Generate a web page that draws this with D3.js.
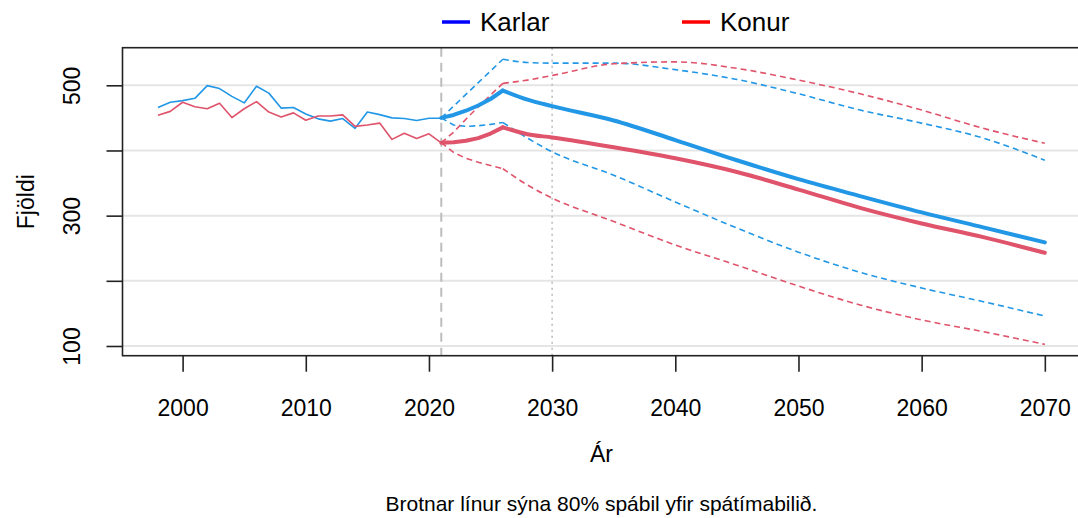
<!DOCTYPE html>
<html>
<head>
<meta charset="utf-8">
<script src="https://cdn.jsdelivr.net/npm/d3@7"></script>
<style>
  html, body { margin: 0; padding: 0; background: #ffffff; }
  svg { display: block; }
  text { font-family: "Liberation Sans", Arial, Helvetica, sans-serif; fill: #000; }
</style>
</head>
<body>
<svg id="chart" width="1078" height="518"></svg>
<script>
// ---------- DATA ----------
const histYears = [1998,1999,2000,2001,2002,2003,2004,2005,2006,2007,2008,2009,2010,2011,2012,2013,2014,2015,2016,2017,2018,2019,2020,2021];
const karlarHist = [466,474,476.5,480,499.5,495,483,473,498.5,488,465,466,456,448.5,445,449,434,459,455,450,449,446,449.5,449.5];
const konurHist  = [454,460,474,467,464,472.5,450.5,464,475,459,451.5,457.7,446.4,453,453,454.6,437,439,442,417,426.5,418.4,425.5,411.7];

const projYears   = [2021,2022,2023,2024,2025,2026,2028,2030,2035,2040,2045,2050,2055,2060,2065,2070];
const karlarMed   = [450,454.5,461,469,479,492,478,468,446,416,385,356,330,305,282,259];
const karlarUpper = [450,468,486,504,522,540,535,534,534,524,509,487,462,442,419,385];
const karlarLower = [450,439,437,438,440,443,419,398,362,321,281,244,213,189,168,146];
const konurMed    = [412,412.5,415,419,426,435.5,425,420,405,388,367,340,312,288,267,243];
const konurUpper  = [412,428,448,467,485,503,508,515,533,536,526,508,487,462,434,411];
const konurLower  = [412,397,388,382,377,372,347,327,291,255,224,192,163,140,122,102.5];

const xTicks = [2000,2010,2020,2030,2040,2050,2060,2070];
const yTicks = [100,200,300,400,500];
const yTickLabels = ["100","","300","","500"];
const refYearDashed = 2021;
const refYearDotted = 2030;
const legendLabels = ["Karlar","Konur"];
const xTitle = "Ár";
const yTitle = "Fjöldi";
const caption = "Brotnar línur sýna 80% spábil yfir spátímabilið.";

// ---------- STYLE ----------
const colKarlar = "#2297E6";
const colKonur  = "#DF536B";
const legendCols = ["#0000FF","#FF0000"];

const svg = d3.select("#chart");
const plot = {left: 122.5, right: 1080.3, top: 47.7, bottom: 355.7};

const x = d3.scaleLinear().domain([1995.12, 2072.88]).range([plot.left, plot.right]);
const y = d3.scaleLinear().domain([85.1, 557.7]).range([plot.bottom, plot.top]);

svg.append("defs").append("clipPath").attr("id","clip")
  .append("rect").attr("x", plot.left).attr("y", plot.top)
  .attr("width", plot.right - plot.left).attr("height", plot.bottom - plot.top);

// grid
svg.append("g").selectAll("line").data(yTicks).join("line")
  .attr("x1", plot.left).attr("x2", plot.right)
  .attr("y1", d => y(d)).attr("y2", d => y(d))
  .attr("stroke", "#e5e5e5").attr("stroke-width", 2);

// reference verticals
svg.append("line")
  .attr("x1", x(refYearDashed)).attr("x2", x(refYearDashed))
  .attr("y1", plot.top).attr("y2", plot.bottom)
  .attr("stroke", "#bdbdbd").attr("stroke-width", 2).attr("stroke-dasharray", "9,6");
svg.append("line")
  .attr("x1", x(refYearDotted)).attr("x2", x(refYearDotted))
  .attr("y1", plot.top).attr("y2", plot.bottom)
  .attr("stroke", "#bdbdbd").attr("stroke-width", 1.6).attr("stroke-dasharray", "2,4");

const g = svg.append("g").attr("clip-path", "url(#clip)");

function drawHist(vals, col) {
  const line = d3.line().x((d,i) => x(histYears[i])).y(d => y(d));
  g.append("path").attr("d", line(vals)).attr("fill","none")
    .attr("stroke", col).attr("stroke-width", 1.6).attr("stroke-linejoin","round");
}
function drawProj(vals, col, width, dash) {
  const pts = projYears.map((yr,i) => [yr, vals[i]]);
  const early = pts.filter(p => p[0] <= 2026);
  const late = pts.filter(p => p[0] >= 2026);
  const l1 = d3.line().x(p => x(p[0])).y(p => y(p[1]));
  const l2 = d3.line().x(p => x(p[0])).y(p => y(p[1])).curve(d3.curveMonotoneX);
  [l1(early), l2(late)].forEach(d => {
    const p = g.append("path").attr("d", d).attr("fill","none")
      .attr("stroke", col).attr("stroke-width", width)
      .attr("stroke-linejoin","round").attr("stroke-linecap", dash ? "butt" : "round");
    if (dash) p.attr("stroke-dasharray", dash);
  });
}

drawHist(karlarHist, colKarlar);
drawHist(konurHist, colKonur);
drawProj(karlarUpper, colKarlar, 1.6, "6,4");
drawProj(karlarLower, colKarlar, 1.6, "6,4");
drawProj(konurUpper, colKonur, 1.6, "6,4");
drawProj(konurLower, colKonur, 1.6, "6,4");
drawProj(konurMed, colKonur, 4, null);
drawProj(karlarMed, colKarlar, 4, null);

// box
svg.append("rect").attr("x", plot.left).attr("y", plot.top)
  .attr("width", plot.right - plot.left).attr("height", plot.bottom - plot.top)
  .attr("fill","none").attr("stroke","#222").attr("stroke-width",1.6);

// x axis
const xAxis = d3.axisBottom(x).tickValues(xTicks).tickFormat(d3.format("d")).tickSize(16).tickPadding(28);
const xg = svg.append("g").attr("transform", `translate(0,${plot.bottom})`).call(xAxis);
xg.select(".domain").remove();
xg.selectAll(".tick line").attr("stroke","#222").attr("stroke-width",1.6);
xg.selectAll(".tick text").attr("font-size", 23).attr("font-family","Liberation Sans").attr("fill","#000");

// y axis
const yAxis = d3.axisLeft(y).tickValues(yTicks).tickFormat((d,i) => yTickLabels[i]).tickSize(16).tickPadding(0);
const yg = svg.append("g").attr("transform", `translate(${plot.left},0)`).call(yAxis);
yg.select(".domain").remove();
yg.selectAll(".tick line").attr("stroke","#222").attr("stroke-width",1.6);
yg.selectAll(".tick text")
  .attr("font-size", 23).attr("font-family","Liberation Sans").attr("fill","#000")
  .attr("text-anchor","middle").attr("dy", null).attr("x", null)
  .attr("transform", "translate(-51,0) rotate(-90)")
  .attr("dominant-baseline","central");

// axis titles
svg.append("text").attr("x", (plot.left + plot.right)/2).attr("y", 462)
  .attr("text-anchor","middle").attr("font-size", 23).text(xTitle);
svg.append("text").attr("transform", `translate(26,${(plot.top+plot.bottom)/2}) rotate(-90)`)
  .attr("text-anchor","middle").attr("dominant-baseline","central").attr("font-size", 23).text(yTitle);

// caption
svg.append("text").attr("x", (plot.left + plot.right)/2).attr("y", 511)
  .attr("text-anchor","middle").attr("font-size", 21).text(caption);

// legend
const legendX = [442, 682];
legendLabels.forEach((lab, i) => {
  svg.append("line").attr("x1", legendX[i]).attr("x2", legendX[i] + 28)
    .attr("y1", 22).attr("y2", 22).attr("stroke", legendCols[i]).attr("stroke-width", 3.5);
  svg.append("text").attr("x", legendX[i] + 38).attr("y", 22)
    .attr("dominant-baseline","central").attr("font-size", 26).text(lab);
});
</script>
</body>
</html>
